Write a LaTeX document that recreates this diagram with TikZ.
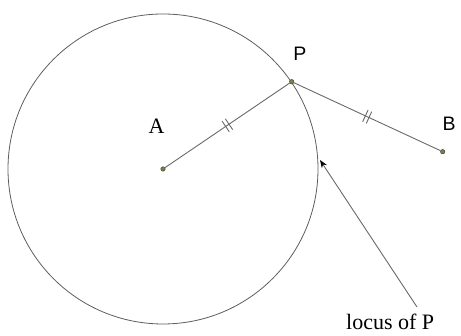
\documentclass[tikz,border=0pt]{standalone}
\usepackage{fontspec}
\setmainfont{Liberation Serif}
\newfontfamily\sanslab{Liberation Sans}
\usetikzlibrary{decorations.markings,arrows.meta}
\definecolor{linegray}{RGB}{105,105,105}
\definecolor{dotfill}{RGB}{120,128,80}
\definecolor{dotdraw}{RGB}{60,62,40}
\begin{document}
\begin{tikzpicture}[x=1pt,y=1pt,
  seg/.style={draw=linegray,line width=0.9pt},
  ticked/.style={postaction={decorate},decoration={markings,
     mark=at position 0.5 with {\draw[linegray,line width=0.9pt] (-2,-6.5)--(-2,6.5) (2,-6.5)--(2,6.5);}}},
  ptdot/.style={circle,fill=dotfill,draw=dotdraw,line width=0.4pt,inner sep=0pt,minimum size=4.5pt},
  serlab/.style={font=\fontsize{22}{26}\selectfont,inner sep=0pt},
  sanlab/.style={font=\sanslab\fontsize{19.5}{23}\selectfont,inner sep=0pt}]
\useasboundingbox (0,0) rectangle (461,336);
\coordinate (Ac) at (163,167);
\draw[draw=linegray!90!black,line width=0.8pt] (Ac) circle (155);
\node[ptdot] (A) at (163,167) {};
\node[ptdot] (P) at (291.7,254.3) {};
\node[ptdot] (B) at (442.7,184.3) {};
\draw[seg,ticked] (A) -- (P);
\draw[seg,ticked] (P) -- (B);
\node[serlab] (Alab) at (156.5,210) {A};
\node[sanlab,anchor=base] (Plab) at (300,275) {P};
\node[sanlab,anchor=base west] (Blab) at (442.5,205) {B};
\node[serlab,anchor=base west] (locus) at (346,6) {locus of P};
\coordinate (tail) at (417,29);
\coordinate (tip) at (320,176);
\draw[seg,-{Stealth[length=8pt,width=6pt,color=black]}] (tail) -- (tip);
\end{tikzpicture}
\end{document}
